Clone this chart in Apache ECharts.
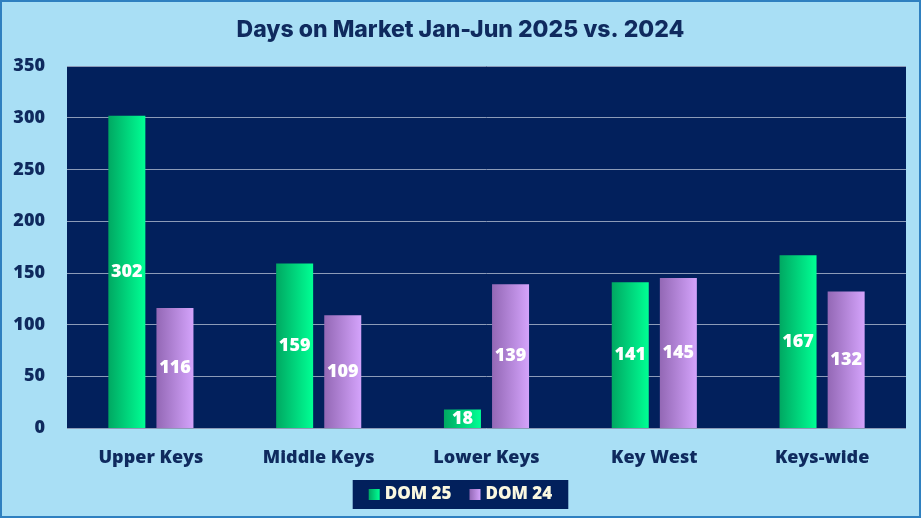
<!DOCTYPE html>
<html>
<head>
    <meta charset="utf-8">
    <title>Days on Market Jan-Jun 2025 vs. 2024</title>
    <script src="https://cdn.jsdelivr.net/npm/echarts@6/dist/echarts.min.js"></script>
    <style>
        html, body { margin: 0; padding: 0; background: #a9dff5; }
    </style>
</head>
<body>
    <div id="main" style="width: 921px; height: 518px;"></div>

    <script>
        // chart data
        var categories = ['Upper Keys', 'Middle Keys', 'Lower Keys', 'Key West', 'Keys-wide'];
        var dom25 = [302, 159, 18, 141, 167];
        var dom24 = [116, 109, 139, 145, 132];
        var seriesNames = ['DOM 25', 'DOM 24'];

        var chartDom = document.getElementById('main');
        var myChart = echarts.init(chartDom);

        // left-to-right shading like the original bars
        function barGradient(from, to) {
            return new echarts.graphic.LinearGradient(0, 0, 1, 0, [
                { offset: 0, color: from },
                { offset: 1, color: to }
            ]);
        }

        var labelFont = 'Open Sans';

        var labelStyle = {
            show: true,
            position: 'inside',
            color: '#ffffff',
            fontSize: 18,
            fontWeight: 800,
            fontFamily: labelFont
        };

        var option = {
            backgroundColor: '#a9dff5',
            title: {
                text: 'Days on Market Jan-Jun 2025 vs. 2024',
                left: 'center',
                top: 14,
                textStyle: {
                    color: '#0f2a5e',
                    fontSize: 23,
                    fontWeight: 800,
                    fontFamily: 'Inter'
                }
            },
            graphic: [
                {
                    type: 'rect',
                    shape: { x: 1, y: 1, width: 919, height: 516 },
                    style: { fill: 'none', stroke: '#2f80c0', lineWidth: 2 },
                    silent: true
                }
            ],
            legend: {
                bottom: 9,
                left: 'center',
                backgroundColor: '#02205c',
                padding: [6, 16, 6, 16],
                itemGap: 18,
                itemWidth: 11,
                itemHeight: 11,
                icon: 'rect',
                textStyle: {
                    color: '#fbf8e0',
                    fontSize: 17,
                    fontWeight: 800,
                    fontFamily: labelFont
                },
                data: seriesNames
            },
            grid: {
                left: 67,
                right: 15,
                top: 66,
                bottom: 90,
                show: true,
                backgroundColor: '#02205c',
                borderWidth: 0
            },
            xAxis: {
                type: 'category',
                data: categories,
                axisTick: { show: false },
                axisLine: { show: false },
                axisLabel: {
                    margin: 21,
                    color: '#0f2a5e',
                    fontSize: 18,
                    fontWeight: 800,
                    fontFamily: labelFont
                }
            },
            yAxis: {
                type: 'value',
                min: 0,
                max: 350,
                interval: 50,
                axisLine: { show: false },
                axisTick: { show: false },
                splitLine: { lineStyle: { color: '#8c9bb8', width: 1 } },
                axisLabel: {
                    margin: 22,
                    color: '#0f2a5e',
                    fontSize: 18,
                    fontWeight: 800,
                    fontFamily: labelFont
                }
            },
            series: [
                {
                    name: seriesNames[0],
                    type: 'bar',
                    data: dom25,
                    barWidth: 37,
                    barGap: '30%',
                    itemStyle: { color: barGradient('#00a862', '#00ff94') },
                    label: labelStyle
                },
                {
                    name: seriesNames[1],
                    type: 'bar',
                    data: dom24,
                    barWidth: 37,
                    itemStyle: { color: barGradient('#9368b5', '#d4a3fb') },
                    label: labelStyle
                }
            ]
        };

        myChart.setOption(option);
    </script>
</body>
</html>
